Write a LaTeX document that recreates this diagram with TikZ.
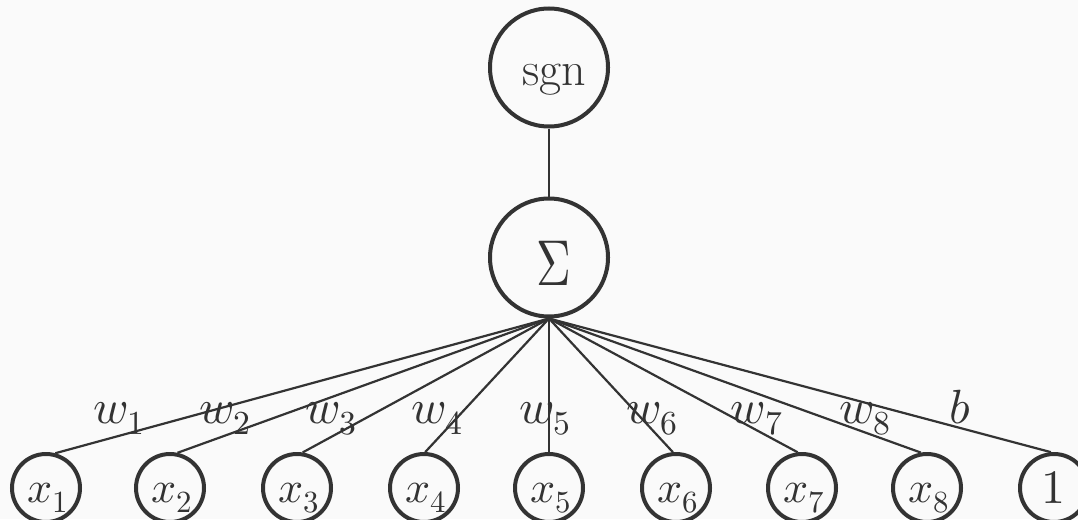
\documentclass[tikz,border=0pt]{standalone}
\usepackage{fontspec}
\usepackage{unicode-math}
\setmathfont{Latin Modern Math}
\usepackage{graphicx}
\definecolor{ink}{RGB}{51,51,51}
\definecolor{bg}{RGB}{250,250,250}
\begin{document}
\begin{tikzpicture}[x=1pt,y=-1pt,
  font=\fontsize{48}{56}\selectfont, text=ink,
  big/.style={circle,draw=ink,line width=4pt,minimum size=118pt,inner sep=0pt},
  small/.style={circle,draw=ink,line width=4pt,minimum size=68pt,inner sep=0pt},
  wire/.style={draw=ink,line width=2.2pt},
  txt/.style={anchor=base,inner sep=0pt},
  intxt/.style={txt,font=\fontsize{44}{52}\selectfont}]
\fill[bg] (0,0) rectangle (1078,519);
\useasboundingbox (0,0) rectangle (1078,519);
% main circles
\node[big] (sgn) at (549,67.5) {};
\node[big] (sum) at (549,257.5) {};
\node[txt] (tsgn) at (554,85) {sgn};
\node[txt] (tsum) at (554,285) {\scalebox{1.0}[1.35]{$\Sigma$}};
% inputs
\node[small] (x1) at (46,488) {};
\node[small] (x2) at (170,488) {};
\node[small] (x3) at (297,488) {};
\node[small] (x4) at (424,488) {};
\node[small] (x5) at (549,488) {};
\node[small] (x6) at (676,488) {};
\node[small] (x7) at (802,488) {};
\node[small] (x8) at (927,488) {};
\node[small] (one) at (1054,488) {};
\node[intxt] (tx1) at (48,502) {$x_1$};
\node[intxt] (tx2) at (172,502) {$x_2$};
\node[intxt] (tx3) at (299,502) {$x_3$};
\node[intxt] (tx4) at (426,502) {$x_4$};
\node[intxt] (tx5) at (551,502) {$x_5$};
\node[intxt] (tx6) at (678,502) {$x_6$};
\node[intxt] (tx7) at (804,502) {$x_7$};
\node[intxt] (tx8) at (929,502) {$x_8$};
\node[txt] (tone) at (1053,503) {$1$};
% connectors
\draw[wire] (sgn.south) -- (sum.north);
\draw[wire] (sum.south) -- (x1.75);
\draw[wire] (sum.south) -- (x2.78);
\draw[wire] (sum.south) -- (x3.81);
\draw[wire] (sum.south) -- (x4.88);
\draw[wire] (sum.south) -- (x5.90);
\draw[wire] (sum.south) -- (x6.95);
\draw[wire] (sum.south) -- (x7.97);
\draw[wire] (sum.south) -- (x8.100);
\draw[wire] (sum.south) -- (one.95);
% weight labels
\node[txt] (w1) at (119,423) {$w_1$};
\node[txt] (w2) at (225,423) {$w_2$};
\node[txt] (w3) at (331,423) {$w_3$};
\node[txt] (w4) at (437,423) {$w_4$};
\node[txt] (w5) at (545,423) {$w_5$};
\node[txt] (w6) at (652,423) {$w_6$};
\node[txt] (w7) at (757,423) {$w_7$};
\node[txt] (w8) at (865,423) {$w_8$};
\node[txt] (wb) at (960,423) {$b$};
\end{tikzpicture}
\end{document}
